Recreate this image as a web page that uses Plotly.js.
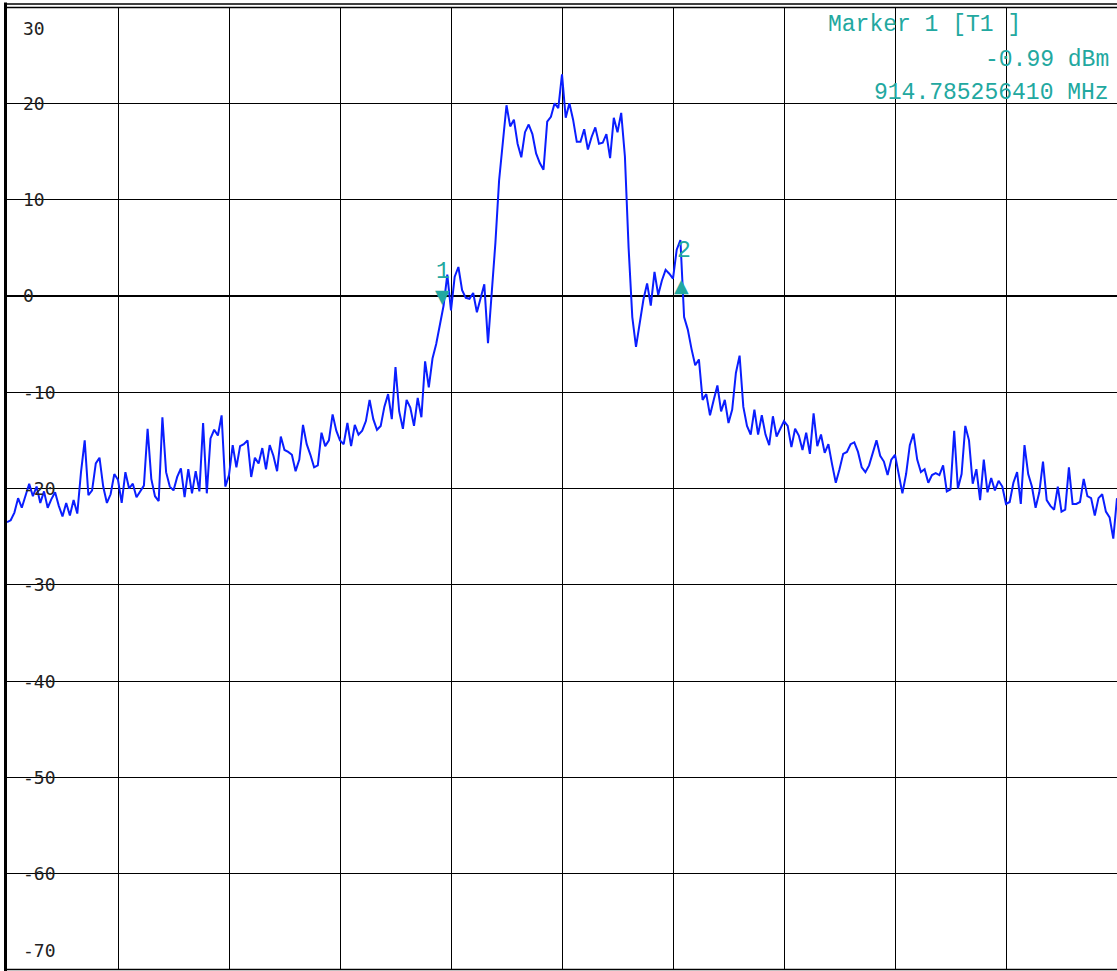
<!DOCTYPE html>
<html><head><meta charset="utf-8">
<script src="https://cdn.plot.ly/plotly-3.0.1.min.js"></script>
<style>html,body{margin:0;padding:0;background:#fff;overflow:hidden;} #chart{width:1117px;height:971px;}</style>
</head><body><div id="chart"></div>
<script>
// ---- data ----
const startFreqMHz = 914.0;
const stopFreqMHz = 916.0;
const levelsDbm = [
  // div 0
  -23.5,-23.3,-22.5,-21,-22,-20.8,-19.5,-20.8,-19.8,-21.5,-20.3,-22,-21.1,-20.4,-21.8,-22.9,-21.5,-22.8,-21.2,-22.6,-18.3,-15,-20.7,-20.2,-17.4,-16.8,-19.8,-21.5,-20.6,-18.5,
  // div 1
  -19.1,-21.5,-18.3,-20,-19.5,-20.9,-20.3,-19.7,-13.8,-19,-20.8,-21.3,-12.6,-18.3,-19.8,-20.2,-18.8,-17.9,-20.9,-18.0,-20.5,-18.2,-20.3,-13.2,-20.5,-14.8,-13.9,-14.5,-12.4,-19.8,
  // div 2
  -18.6,-15.5,-17.8,-15.6,-15.4,-15.0,-18.8,-16.8,-17.4,-15.8,-18.0,-15.5,-16.6,-18.2,-14.6,-16.0,-16.2,-16.5,-18.2,-17.0,-13.4,-15.4,-16.5,-17.8,-17.6,-14.2,-15.6,-15.0,-12.3,-14.0,
  // div 3
  -15.0,-15.4,-13.2,-15.6,-13.4,-14.4,-14.0,-13.0,-10.8,-12.8,-13.9,-13.5,-11.5,-10.2,-12.8,-7.4,-12.0,-13.8,-10.8,-11.6,-13.5,-10.6,-12.6,-6.8,-9.5,-6.5,-5.0,-2.8,-1.0,2.2,
  // div 4
  -1.5,2.0,3.0,0.6,-0.2,-0.3,0.3,-1.7,-0.2,1.2,-4.9,0.5,5.5,12.0,16.0,19.8,17.6,18.3,15.8,14.4,17.0,17.8,16.8,14.8,13.8,13.1,18.1,18.6,20.0,19.5,
  // div 5
  23.0,18.5,20.0,18.3,16.0,16.0,17.3,15.2,16.5,17.5,15.8,15.9,16.8,14.3,18.5,17.0,19.0,14.5,5.0,-2.2,-5.3,-2.6,-0.4,1.3,-1.0,2.5,0.1,1.6,2.7,2.3,
  // div 6
  1.8,4.8,5.8,-2.2,-3.5,-5.5,-7.2,-6.6,-10.8,-10.2,-12.4,-10.8,-9.3,-12.0,-10.8,-13.2,-11.8,-8.0,-6.2,-11.5,-13.5,-14.4,-11.8,-14.4,-12.4,-14.4,-15.5,-12.5,-14.6,-13.8,
  // div 7
  -13.0,-13.5,-15.7,-13.8,-14.5,-16.0,-14.2,-16.4,-12.2,-15.6,-14.4,-16.3,-15.4,-17.5,-19.4,-18.0,-16.4,-16.2,-15.4,-15.2,-16.2,-17.8,-18.3,-17.6,-16.2,-15.0,-16.6,-17.2,-18.6,-17.0,
  // div 8
  -16.5,-18.5,-20.5,-18.5,-15.5,-14.3,-17.0,-18.3,-18.0,-19.4,-18.6,-18.4,-18.6,-17.6,-20.3,-20.1,-14.0,-20.0,-18.5,-13.5,-15.0,-19.5,-18.0,-21.2,-17.0,-20.4,-18.9,-20.2,-19.2,-19.8,
  // div 9
  -21.6,-21.4,-19.4,-18.3,-21.6,-15.5,-18.5,-19.8,-22.0,-20.4,-17.2,-21.2,-21.8,-22.2,-19.8,-22.4,-22.2,-17.8,-21.6,-21.6,-21.4,-19.0,-20.8,-21.0,-22.8,-21.0,-20.6,-22.4,-23.0,-25.2,-21.0
];
const yTickValues = [30,20,10,0,-10,-20,-30,-40,-50,-60,-70];
const yTickLabels = ['30','20','10','0','-10','-20','-30','-40','-50','-60','-70'];
const markerNames = ['1','2'];
const markerFreqsMHz = [914.785256410, 915.214743590];
const markerLevelsDbm = [-0.99, 2.0];
const markerSymbols = ['\u25BC','\u25B2'];
const markerInfoLines = ['Marker 1 [T1 ]', '-0.99 dBm', '914.785256410 MHz'];

// ---- layout helpers ----
const W = 1117, H = 971, ML = 7, MR = 0, MT = 7, MB = 1;
const PW = W - ML - MR, PH = H - MT - MB;
const px2x = p => (p - ML) / PW;
const py2y = p => (H - MB - p) / PH;
const TEAL = '#22a8a0';

const trace = {
  type: 'scatter', mode: 'lines',
  x0: startFreqMHz, dx: (stopFreqMHz - startFreqMHz) / (levelsDbm.length - 1),
  y: levelsDbm,
  line: {color: '#0a1eff', width: 2},
  hoverinfo: 'skip'
};

const annotations = [];
const shapes = [];

yTickValues.forEach((v, i) => {
  const lab = yTickLabels[i];
  let yshift = 0;
  if (i === 0) yshift = -21;
  if (i === yTickValues.length - 1) yshift = 20;
  annotations.push({
    xref: 'paper', yref: 'y', x: px2x(21), y: v, xanchor: 'left', yanchor: 'middle',
    yshift: yshift, showarrow: false, text: lab,
    font: {family: 'DejaVu Sans Mono', size: 18, color: '#222'}
  });
  if (i > 0 && i < yTickValues.length - 1) {
    shapes.push({
      type: 'rect', layer: 'between', xref: 'paper', yref: 'y',
      xsizemode: 'pixel', ysizemode: 'pixel', xanchor: 0, yanchor: v,
      x0: 13, x1: 13 + 11 * lab.length + 4, y0: -7, y1: 7,
      fillcolor: '#ffffff', line: {width: 0}
    });
  }
});

// markers
markerNames.forEach((n, i) => {
  const down = i === 0;
  annotations.push({
    xref: 'x', yref: 'y', x: markerFreqsMHz[i], y: markerLevelsDbm[i],
    xanchor: 'center', yanchor: 'middle', yshift: down ? 9 : -8, showarrow: false, borderpad: 0,
    text: markerSymbols[i], font: {family: 'DejaVu Sans', size: 19, color: TEAL}
  });
  annotations.push({
    xref: 'x', yref: 'y', x: markerFreqsMHz[i], y: markerLevelsDbm[i],
    xanchor: 'center', yanchor: 'middle', yshift: down ? 33 : 26, xshift: down ? 0 : 3, borderpad: 0,
    showarrow: false, text: n, font: {family: 'Liberation Mono', size: 23, color: TEAL}
  });
});

// marker info block
annotations.push({xref: 'paper', yref: 'paper', x: px2x(826), y: py2y(25), xanchor: 'left', yanchor: 'middle',
  showarrow: false, text: markerInfoLines[0], font: {family: 'Liberation Mono', size: 23, color: TEAL}});
annotations.push({xref: 'paper', yref: 'paper', x: px2x(1111), y: py2y(60), xanchor: 'right', yanchor: 'middle',
  showarrow: false, text: markerInfoLines[1], font: {family: 'Liberation Mono', size: 23, color: TEAL}});
annotations.push({xref: 'paper', yref: 'paper', x: px2x(1111), y: py2y(93), xanchor: 'right', yanchor: 'middle',
  showarrow: false, text: markerInfoLines[2], font: {family: 'Liberation Mono', size: 23, color: TEAL}});

// frame lines
shapes.push({type: 'line', xref: 'paper', yref: 'paper', x0: px2x(5.5), x1: px2x(5.5), y0: py2y(971), y1: py2y(2.5),
  line: {color: '#000', width: 3}, layer: 'above'});
shapes.push({type: 'line', xref: 'paper', yref: 'paper', x0: px2x(4), x1: px2x(1117), y0: py2y(4), y1: py2y(4),
  line: {color: '#000', width: 1.6}, layer: 'above'});
shapes.push({type: 'line', xref: 'paper', yref: 'paper', x0: px2x(4), x1: px2x(1117), y0: py2y(7.5), y1: py2y(7.5),
  line: {color: '#000', width: 1.6}, layer: 'above'});
shapes.push({type: 'line', xref: 'paper', yref: 'paper', x0: px2x(4), x1: px2x(1117), y0: py2y(969.5), y1: py2y(969.5),
  line: {color: '#000', width: 1.6}, layer: 'above'});

const layout = {
  width: W, height: H,
  margin: {l: ML, r: MR, t: MT, b: MB, pad: 0},
  paper_bgcolor: '#fff', plot_bgcolor: '#fff',
  showlegend: false,
  xaxis: {range: [startFreqMHz, stopFreqMHz], tick0: startFreqMHz, dtick: 0.2, showticklabels: false,
    ticks: '', showgrid: true, gridcolor: '#000', gridwidth: 1, zeroline: false, showline: false, fixedrange: true},
  yaxis: {range: [-70, 30], tick0: 0, dtick: 10, showticklabels: false, ticks: '',
    showgrid: true, gridcolor: '#000', gridwidth: 1, zeroline: true, zerolinecolor: '#000', zerolinewidth: 1.8,
    showline: false, fixedrange: true},
  annotations: annotations,
  shapes: shapes
};

Plotly.newPlot('chart', [trace], layout, {staticPlot: true, displayModeBar: false});
</script>
</body></html>
